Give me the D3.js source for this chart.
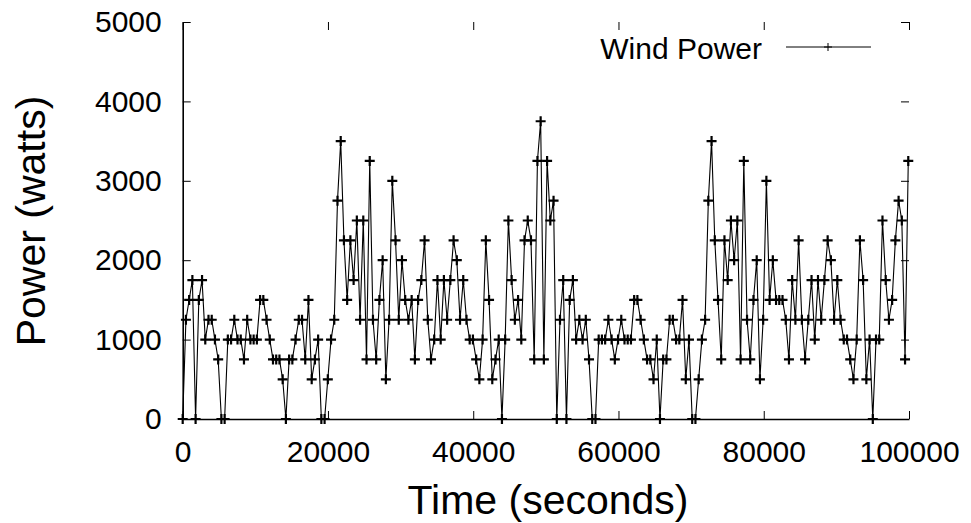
<!DOCTYPE html>
<html>
<head>
<meta charset="utf-8">
<script src="https://cdn.jsdelivr.net/npm/d3@7/dist/d3.min.js"></script>
<style>
  html, body { margin: 0; padding: 0; background: #fff; }
  svg { display: block; }
</style>
</head>
<body>
<svg id="chart" width="971" height="523"></svg>
<script>
// ---- data ----
const seriesName = "Wind Power";
const sampleInterval = 444; // seconds between samples
const power = [
  0,1250,1500,1750,0,1500,1750,1000,1250,1250,1000,750,0,0,1000,1000,1250,1000,1000,750,1250,1000,1000,1000,1500,1500,1250,1000,
  750,750,750,500,0,750,750,1000,1250,1250,750,1500,500,750,1000,0,0,500,1000,1250,2750,3500,2250,1500,2250,1750,2500,1250,
  2500,750,3250,1250,750,1500,2000,500,1250,3000,2250,1250,2000,1500,1250,1500,750,1500,1750,2250,1250,750,1000,1750,1000,1750,1250,1750,2250,
  2000,1250,1750,1250,1000,1000,750,500,1000,2250,1500,500,750,1000,0,1000,2500,1750,1250,1500,1000,2250,2500,2250,750,3250,3750,
  750,3250,2500,2750,0,1250,1750,0,1500,1750,1000,1250,1000,1250,750,0,0,1000,1000,1000,1250,1000,750,1000,1250,1000,1000,1000,1500,
  1500,1250,1000,750,750,500,1000,0,750,750,1250,1250,1000,1000,1500,500,1000,0,0,500,1000,1250,2750,3500,2250,1500,750,2250,
  1750,2500,2000,2500,750,3250,1250,750,1500,2000,500,1250,3000,1500,2000,1500,1500,1500,1250,750,1750,1250,2250,1250,750,1250,1750,1000,
  1750,1250,1750,2250,2000,1250,1750,1250,1000,1000,750,500,1000,2250,1750,500,1000,0,1000,1000,2500,1750,1250,1500,2250,2750,2500,750,3250
];
const xTicks = [0, 20000, 40000, 60000, 80000, 100000];
const yTicks = [0, 1000, 2000, 3000, 4000, 5000];
const xTitle = "Time (seconds)";
const yTitle = "Power (watts)";

// ---- layout ----
const FONT = "'Liberation Sans', Arial, Helvetica, sans-serif";
const svg = d3.select("#chart");
svg.append("rect").attr("width", 971).attr("height", 523).attr("fill", "#fff");

const x = d3.scaleLinear().domain([0, 100000]).range([182.7, 909]);
const y = d3.scaleLinear().domain([0, 5000]).range([419, 22]);
const fmt = d3.format("d");

const data = power.map((v, i) => ({ t: i * sampleInterval, v }));

function styleAxis(g, withLabels) {
  g.attr("font-family", FONT).attr("font-size", 30);
  g.selectAll(".tick line").attr("stroke", "#000").attr("stroke-width", 1);
  g.selectAll(".tick text").attr("fill", "#000");
  g.select(".domain").attr("stroke", "#000").attr("stroke-width", 1.6);
  if (!withLabels) g.selectAll(".tick text").remove();
}

// left axis
svg.append("g").attr("transform", "translate(182.7,0)")
  .call(d3.axisLeft(y).tickValues(yTicks).tickFormat(fmt).tickSizeInner(-8).tickSizeOuter(0).tickPadding(21))
  .call(g => styleAxis(g, true));
// bottom axis
svg.append("g").attr("transform", "translate(0,419)")
  .call(d3.axisBottom(x).tickValues(xTicks).tickFormat(fmt).tickSizeInner(-8).tickSizeOuter(0).tickPadding(21.5))
  .call(g => styleAxis(g, true));
// mirrored top ticks
svg.append("g").attr("transform", "translate(0,22)")
  .call(d3.axisTop(x).tickValues(xTicks).tickSizeInner(-8).tickSizeOuter(0).tickFormat(""))
  .call(g => { styleAxis(g, false); g.select(".domain").remove(); });
// mirrored right ticks
svg.append("g").attr("transform", "translate(909,0)")
  .call(d3.axisRight(y).tickValues(yTicks).tickSizeInner(-8).tickSizeOuter(0).tickFormat(""))
  .call(g => { styleAxis(g, false); g.select(".domain").remove(); });

// series line
const line = d3.line().x(d => x(d.t)).y(d => y(d.v));
svg.append("path").datum(data)
  .attr("d", line)
  .attr("fill", "none")
  .attr("stroke", "#000")
  .attr("stroke-width", 1.1);

// point markers (+)
svg.append("g").selectAll("path.pt").data(data).join("path")
  .attr("class", "pt")
  .attr("transform", d => `translate(${x(d.t)},${y(d.v)})`)
  .attr("d", "M-5,0H5M0,-5V5")
  .attr("stroke", "#000")
  .attr("stroke-width", 2.2)
  .attr("fill", "none");

// axis titles
svg.append("text")
  .attr("x", 548).attr("y", 514)
  .attr("text-anchor", "middle")
  .attr("font-family", FONT).attr("font-size", 41)
  .attr("fill", "#000")
  .text(xTitle);
svg.append("text")
  .attr("transform", "translate(45,221) rotate(-90)")
  .attr("text-anchor", "middle")
  .attr("font-family", FONT).attr("font-size", 41)
  .attr("fill", "#000")
  .text(yTitle);

// legend
const legend = svg.append("g");
legend.append("text")
  .attr("x", 762).attr("y", 59)
  .attr("text-anchor", "end")
  .attr("font-family", FONT).attr("font-size", 30)
  .attr("fill", "#000")
  .text(seriesName);
legend.append("line")
  .attr("x1", 786).attr("x2", 871).attr("y1", 47).attr("y2", 47)
  .attr("stroke", "#000").attr("stroke-width", 1);
legend.append("path")
  .attr("transform", "translate(828,47)")
  .attr("d", "M-4,0H4M0,-4V4")
  .attr("stroke", "#000").attr("stroke-width", 1);
</script>
</body>
</html>
